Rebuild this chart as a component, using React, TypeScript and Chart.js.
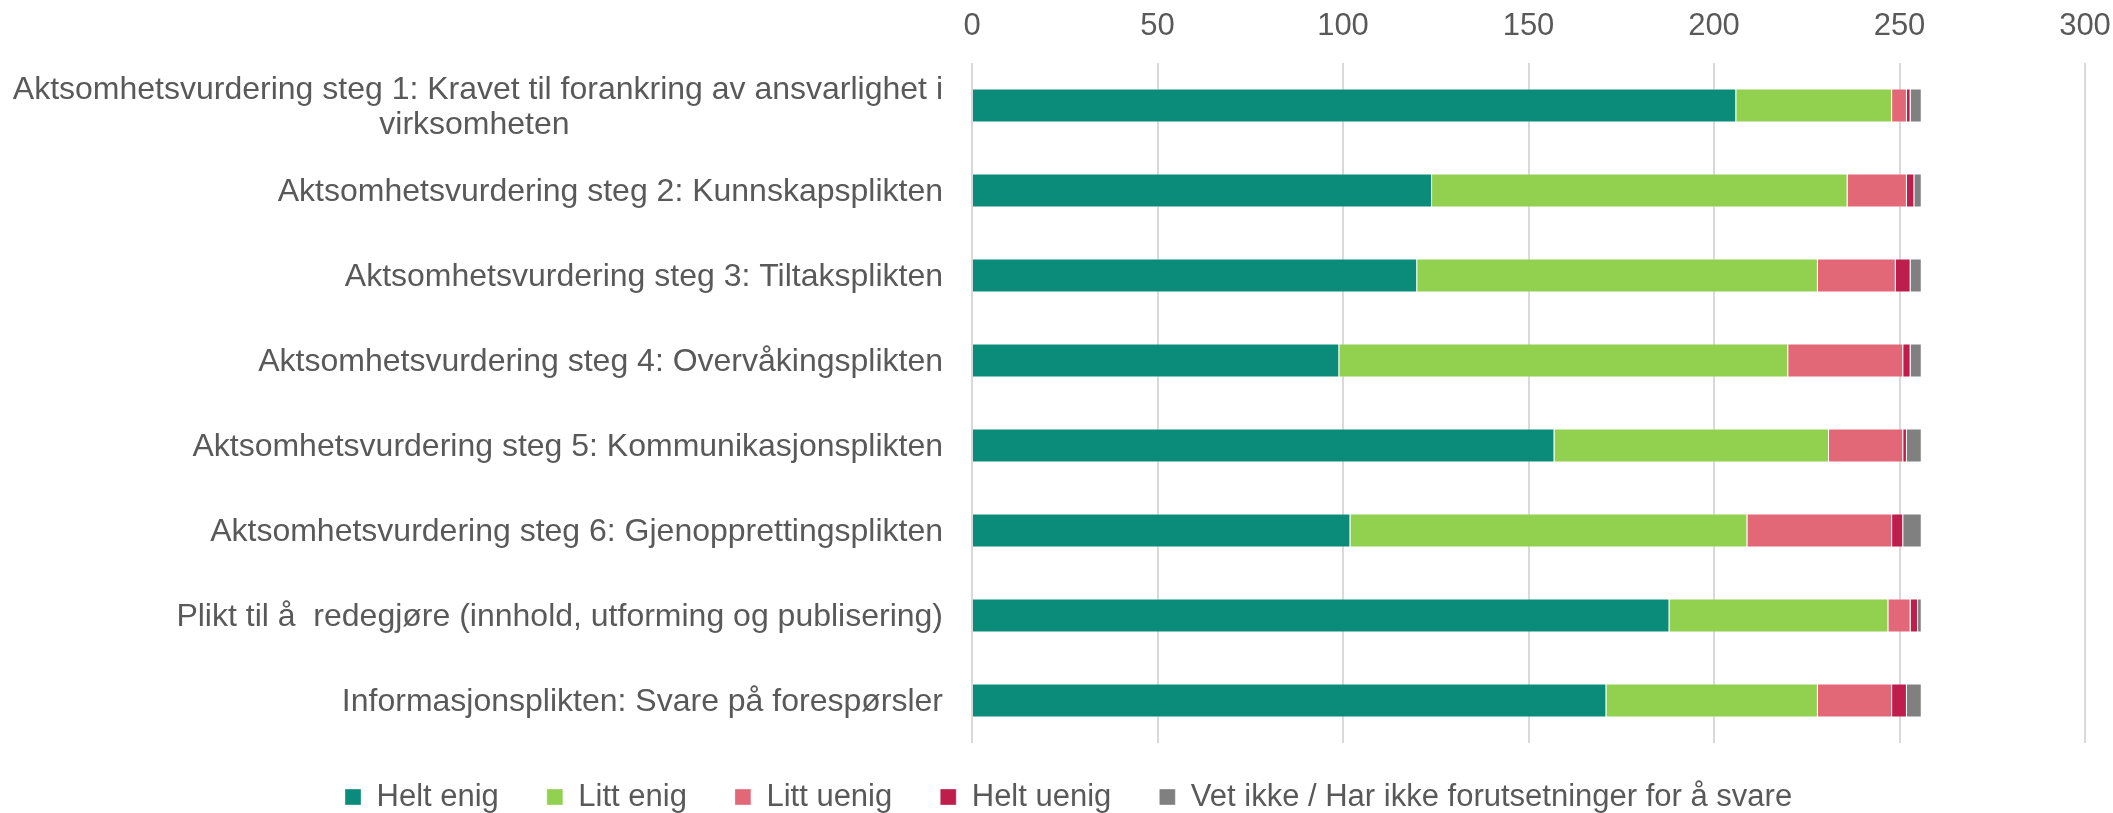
import { useEffect, useRef } from "react";
import { Chart, registerables } from "chart.js";

Chart.register(...registerables);

const categories: (string | string[])[] = [
  ["Aktsomhetsvurdering steg 1: Kravet til forankring av ansvarlighet i", "virksomheten"],
  "Aktsomhetsvurdering steg 2: Kunnskapsplikten",
  "Aktsomhetsvurdering steg 3: Tiltaksplikten",
  "Aktsomhetsvurdering steg 4: Overvåkingsplikten",
  "Aktsomhetsvurdering steg 5: Kommunikasjonsplikten",
  "Aktsomhetsvurdering steg 6: Gjenopprettingsplikten",
  "Plikt til å  redegjøre (innhold, utforming og publisering)",
  "Informasjonsplikten: Svare på forespørsler",
];

const seriesNames = [
  "Helt enig",
  "Litt enig",
  "Litt uenig",
  "Helt uenig",
  "Vet ikke / Har ikke forutsetninger for å svare",
];

const heltEnig = [206, 124, 120, 99, 157, 102, 188, 171];
const littEnig = [42, 112, 108, 121, 74, 107, 59, 57];
const littUenig = [4, 16, 21, 31, 20, 39, 6, 20];
const heltUenig = [1, 2, 4, 2, 1, 3, 2, 4];
const vetIkke = [3, 2, 3, 3, 4, 5, 1, 4];

const seriesColors = ["#0B8C7B", "#92D050", "#E26878", "#BE1E4B", "#808080"];

const xMin = 0;
const xMax = 300;
const xStep = 50;

const W = 2113;
const H = 813;
const FONT_FAMILY = '"Liberation Sans", Arial, sans-serif';
const FONT_SIZE = 31;
const CAT_FONT_SIZE = 32;
const TEXT_COLOR = "#595959";
const PLOT_LEFT = 972;
const PLOT_TOP = 63;
const PLOT_RIGHT_PAD = 28;
const LEGEND_BOX_X = 345;
const LEGEND_CENTER_Y = 797;
const LEGEND_PAD = 48;

const legendPlacement = {
  id: "legendPlacement",
  afterLayout(chart: any) {
    const lg = chart.legend;
    if (!lg) return;
    const h = lg.height;
    lg.left = LEGEND_BOX_X - LEGEND_PAD;
    lg.right = lg.left + 4000;
    lg.top = LEGEND_CENTER_Y - LEGEND_PAD - FONT_SIZE / 2;
    lg.bottom = lg.top + h;
  },
};

export default function App() {
  const ref = useRef<HTMLCanvasElement | null>(null);

  useEffect(() => {
    document.body.style.margin = "0";
    const canvas = ref.current;
    if (!canvas) return;

    const mctx = document.createElement("canvas").getContext("2d")!;
    mctx.font = `${CAT_FONT_SIZE}px ${FONT_FAMILY}`;
    const spaceW = mctx.measureText(" ").width;
    const labels = categories.map((c) => {
      if (!Array.isArray(c)) return c;
      const widest = Math.max(...c.map((l) => mctx.measureText(l).width));
      return c.map(
        (l) => l + " ".repeat(Math.max(0, Math.round((widest - mctx.measureText(l).width) / 2 / spaceW)))
      );
    });

    const values = [heltEnig, littEnig, littUenig, heltUenig, vetIkke];

    const chart = new Chart(canvas, {
      type: "bar",
      data: {
        labels,
        datasets: values.map((data, i) => ({
          label: seriesNames[i],
          data,
          backgroundColor: seriesColors[i],
          borderColor: "rgba(255,255,255,0.35)",
          borderWidth: 1,
          barPercentage: 0.4,
          categoryPercentage: 1,
        })),
      },
      plugins: [legendPlacement],
      options: {
        indexAxis: "y",
        animation: false,
        responsive: false,
        devicePixelRatio: 1,
        layout: { padding: { top: 0, left: 0, right: PLOT_RIGHT_PAD, bottom: -19 } },
        scales: {
          x: {
            type: "linear",
            position: "top",
            stacked: true,
            min: xMin,
            max: xMax,
            ticks: {
              stepSize: xStep,
              padding: 18,
              color: TEXT_COLOR,
              font: { family: FONT_FAMILY, size: FONT_SIZE, lineHeight: 1.2 },
            },
            grid: { color: "#d9d9d9", lineWidth: 2, drawTicks: false },
            border: { display: false },
            afterFit: (scale: any) => {
              scale.height = PLOT_TOP;
              scale.paddingRight = PLOT_RIGHT_PAD;
              scale.paddingLeft = 0;
            },
          },
          y: {
            stacked: true,
            ticks: {
              padding: 29,
              labelOffset: 2,
              color: TEXT_COLOR,
              font: { family: FONT_FAMILY, size: CAT_FONT_SIZE, lineHeight: 1.1 },
            },
            grid: { display: false, drawTicks: false },
            border: { display: false },
            afterFit: (scale: any) => {
              scale.width = PLOT_LEFT;
            },
          },
        },
        plugins: {
          legend: {
            position: "bottom",
            align: "start",
            labels: {
              boxWidth: 16,
              boxHeight: 16,
              padding: LEGEND_PAD,
              color: TEXT_COLOR,
              font: { family: FONT_FAMILY, size: FONT_SIZE },
            },
          },
          tooltip: { enabled: false },
        },
      },
    } as any);

    return () => chart.destroy();
  }, []);

  return (
    <div style={{ width: W, height: H, position: "relative", overflow: "hidden" }}>
      <canvas ref={ref} width={W} height={H} style={{ display: "block" }} />
    </div>
  );
}
